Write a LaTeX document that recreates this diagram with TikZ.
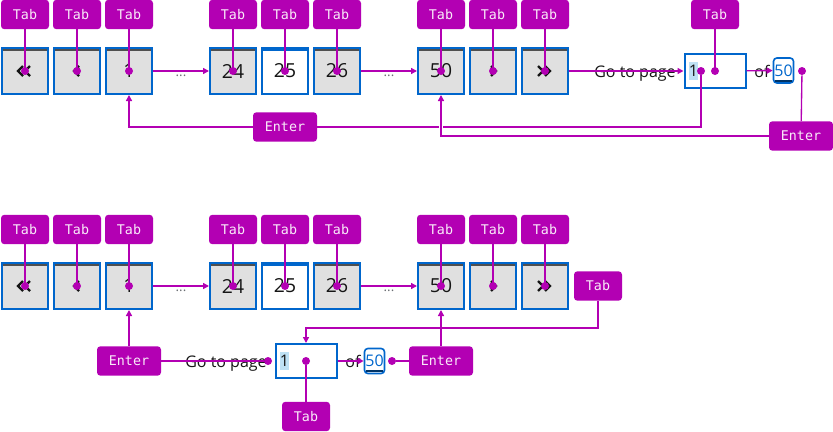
\documentclass[tikz,border=0pt]{standalone}
\usepackage{fontspec}
\usepackage{xcolor}
\usetikzlibrary{positioning, arrows.meta}
\setmainfont{Open Sans}
\newfontfamily\keyfont{DejaVu Sans Mono}
\definecolor{keypink}{RGB}{179,0,179}
\definecolor{pfblue}{RGB}{0,102,204}
\definecolor{pfgray}{RGB}{224,224,224}
\definecolor{pfbar}{RGB}{79,79,79}
\definecolor{pfsel}{RGB}{190,225,244}
\definecolor{pfnavy}{RGB}{0,51,102}
\definecolor{pfink}{RGB}{21,21,21}
\definecolor{pfmute}{RGB}{106,110,115}

\begin{document}
\begin{tikzpicture}[x=0.75pt,y=-0.75pt,>={Triangle[length=4.5pt,width=4.5pt]},
  key/.style={rectangle,rounded corners=2.5pt,fill=keypink,text=white!92!keypink,inner sep=0pt,
    minimum width=36pt,minimum height=22pt,font=\keyfont\fontsize{10}{12}\selectfont},
  enterkey/.style={key,minimum width=48pt},
  pagebtn/.style={rectangle,draw=pfblue,line width=1.5pt,fill=pfgray,text=pfink,
    minimum size=34.5pt,inner sep=0pt,font=\fontsize{14.5}{16}\selectfont,
    path picture={\fill[pfbar] (path picture bounding box.north west)
      rectangle ([yshift=-2.2pt]path picture bounding box.north east);}},
  curbtn/.style={pagebtn,fill=white,
    path picture={\fill[pfblue] (path picture bounding box.north west)
      rectangle ([yshift=-2.6pt]path picture bounding box.north east);}},
  inbox/.style={rectangle,draw=pfblue,line width=1.5pt,fill=white,
    minimum width=45.75pt,minimum height=25.5pt,inner sep=0pt},
  lastbox/.style={rectangle,draw=pfblue,line width=1.2pt,rounded corners=2.5pt,
    text=pfblue,minimum width=15pt,minimum height=18.75pt,inner sep=0pt,
    font=\fontsize{12}{14}\selectfont},
  uitext/.style={text=pfink,inner sep=0pt,anchor=base,font=\fontsize{12}{14}\selectfont},
  caret/.style={text=pfink,fill=pfsel,inner xsep=0.3pt,inner ysep=2.5pt,
    font=\fontsize{12}{14}\selectfont},
  gap/.style={text=pfmute,inner sep=0pt,font=\fontsize{10}{12}\selectfont},
  chev/.style={pfink,line width=1.7pt},
  link/.style={keypink,line width=1pt},
  hop/.style={circle,fill=keypink,inner sep=0pt,minimum size=6pt}]
  \useasboundingbox (0,0) rectangle (833,432);

  % page buttons and their Tab keys, both rows
  \foreach \row/\yb/\yk in {a/71/14.5, b/286/229.5}{
    \foreach \n/\xb/\lab/\sty in {1/25//pagebtn, 2/77//pagebtn, 3/129/1/pagebtn,
        4/233/24/pagebtn, 5/285/25/curbtn, 6/337/26/pagebtn,
        7/441/50/pagebtn, 8/493//pagebtn, 9/545//pagebtn}{
      \node[\sty] (\row\n) at (\xb,\yb) {\lab};
      \node[key] (\row k\n) at (\xb,\yk) {Tab};
    }
  }
  % first / prev / next / last icons
  \foreach \row in {a,b}{
    \draw[chev,shift={(\row1.center)}] (-2,-5) -- (-7,0) -- (-2,5) (5,-5) -- (0,0) -- (5,5);
    \draw[chev,shift={(\row2.center)}] (2,-5) -- (-3,0) -- (2,5);
    \draw[chev,shift={(\row8.center)}] (-2,-5) -- (3,0) -- (-2,5);
    \draw[chev,shift={(\row9.center)}] (-7,-5) -- (-2,0) -- (-7,5) (0,-5) -- (5,0) -- (0,5);
  }
  \foreach \row/\yg in {a/76, b/291}{
    \node[gap] (\row g1) at (181,\yg) {...};
    \node[gap] (\row g2) at (389,\yg) {...};
    \draw[link,->] (\row3) -- (\row4);
    \draw[link,->] (\row6) -- (\row7);
    \foreach \n in {1,...,9}{
      \draw[link] (\row k\n) -- (\row\n.center);
      \node[hop] (\row d\n) at (\row\n.center) {};
    }
  }

  % go to page, top row
  \node[uitext] (ago) at (635,77) {Go to page};
  \node[inbox] (ain) at (715,71) {};
  \node[caret] (acar) at (693.5,71) {1};
  \node[uitext] (aof) at (762,77) {of};
  \node[lastbox] (alast) at (783.5,70.5) {50};
  \draw[pfnavy,line width=1.4pt] ([xshift=2pt,yshift=2.2pt]alast.south west)
    -- ([xshift=-2pt,yshift=2.2pt]alast.south east);
  \node[key] (akin) at (715,14.5) {Tab};
  \node[enterkey] (aent1) at (285,127) {Enter};
  \node[enterkey] (aent2) at (801,136) {Enter};
  \draw[link,->] (a9) -- (ain);
  \draw[link,->] (ain) -- (alast);
  \draw[link] (akin) -- (ain.center);
  \node[hop] (ahin) at (ain.center) {};
  \node[hop] (ahen) at (701,71) {};
  \node[hop] (ahlast) at (802,71) {};
  \draw[link] (ahen) |- (aent1);
  \draw[link,->] (aent1) -| (a3);
  \draw[link] (ahlast) -- (aent2);
  \draw[link,->,preaction={draw=white,line width=3pt,-}] (aent2) -| (a7);

  % go to page, bottom row
  \node[inbox] (bin) at (306,361) {};
  \node[caret] (bcar) at (284.5,361) {1};
  \node[uitext] (bgo) at (226,367) {Go to page};
  \node[uitext] (bof) at (353,367) {of};
  \node[lastbox] (blast) at (374.5,361) {50};
  \draw[pfnavy,line width=1.4pt] ([xshift=2pt,yshift=2.2pt]blast.south west)
    -- ([xshift=-2pt,yshift=2.2pt]blast.south east);
  \node[key] (bknext) at (598,286) {Tab};
  \node[key] (bkin) at (306,416.5) {Tab};
  \node[enterkey] (bent1) at (129,361) {Enter};
  \node[enterkey] (bent2) at (441,361) {Enter};
  \coordinate (bturn) at (598,328);
  \draw[link,->] (bknext) -- (bturn) -| (bin);
  \draw[link,->] (bin) -- (blast);
  \node[hop] (bhin) at (bin.center) {};
  \draw[link] (bkin) -- (bhin);
  \node[hop] (bhgo) at (268,361) {};
  \node[hop] (bhlast) at (392,361) {};
  \draw[link] (bent1) -- (bhgo);
  \draw[link,->] (bent1) -- (b3);
  \draw[link] (bhlast) -- (bent2);
  \draw[link,->] (bent2) -- (b7);
\end{tikzpicture}
\end{document}
